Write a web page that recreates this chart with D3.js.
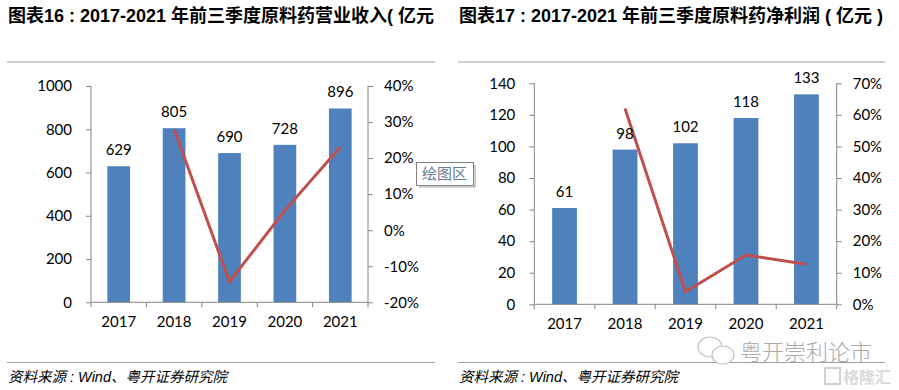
<!DOCTYPE html>
<html>
<head>
<meta charset="utf-8">
<script src="https://cdn.jsdelivr.net/npm/d3@7/dist/d3.min.js"></script>
<style>
  body { margin: 0; background: #fff; }
  svg { display: block; }
  .title { font-family: "Liberation Sans", "Noto Sans CJK SC", sans-serif; font-weight: bold; font-size: 18px; fill: #000; }
  .lbl { font-family: Lato, "Open Sans", sans-serif; font-size: 15px; fill: #000; }
  .src { font-family: "Liberation Sans", "Noto Sans CJK SC", sans-serif; font-style: italic; font-size: 14.5px; fill: #000; }
</style>
</head>
<body>
<svg id="chart" width="899" height="390"></svg>
<script>
// data
const years = ["2017", "2018", "2019", "2020", "2021"];
const revenue = [629, 805, 690, 728, 896];
const revenueGrowth = [null, 28.0, -14.3, 5.5, 23.1];
const profit = [61, 98, 102, 118, 133];
const profitGrowth = [null, 62.0, 4.0, 15.6, 12.7];
const revenueTicks = [0, 200, 400, 600, 800, 1000];
const revenuePctTicks = [-20, -10, 0, 10, 20, 30, 40];
const profitTicks = [0, 20, 40, 60, 80, 100, 120, 140];
const profitPctTicks = [0, 10, 20, 30, 40, 50, 60, 70];

const svg = d3.select("#chart");
const axisColor = "#868686";

function drawPanel(opt) {
  const g = svg.append("g");
  const x = d3.scaleBand().domain(years).range([opt.x0, opt.x1]).paddingInner(0.59).paddingOuter(0.295);
  const xb = d3.scaleBand().domain(years).range([opt.x0, opt.x1]);
  const y = d3.scaleLinear().domain(d3.extent(opt.ticks)).range([opt.y1, opt.y0]);
  const y2 = d3.scaleLinear().domain(d3.extent(opt.pctTicks)).range([opt.y1, opt.y0]);

  // bars
  g.selectAll("rect.bar").data(opt.values).join("rect")
    .attr("class", "bar")
    .attr("x", (d, i) => x(years[i]))
    .attr("width", x.bandwidth())
    .attr("y", d => y(d))
    .attr("height", d => y(0) - y(d))
    .attr("fill", "#4F81BD");

  // left axis
  const ya = g.append("g").attr("transform", `translate(${opt.x0},0)`)
    .call(d3.axisLeft(y).tickValues(opt.ticks).tickSize(5).tickPadding(opt.padL).tickFormat(d3.format("d")));
  // right axis
  const yb = g.append("g").attr("transform", `translate(${opt.x1},0)`)
    .call(d3.axisRight(y2).tickValues(opt.pctTicks).tickSize(5).tickPadding(11).tickFormat(d => d + "%"));
  // x axis, ticks sit on the band edges
  const xa = g.append("g").attr("transform", `translate(0,${opt.y1})`)
    .call(d3.axisBottom(xb).tickSize(0).tickPadding(14));
  xa.selectAll(".edge").data(d3.range(years.length + 1)).join("line")
    .attr("class", "edge")
    .attr("x1", i => opt.x0 + i * xb.step())
    .attr("x2", i => opt.x0 + i * xb.step())
    .attr("y1", 0).attr("y2", 5)
    .attr("stroke", axisColor);

  ya.select(".domain").attr("d", `M0,${opt.y0}V${opt.y1}`);
  yb.select(".domain").attr("d", `M0,${opt.y0}V${opt.y1}`);
  xa.select(".domain").attr("d", `M${opt.x0},0H${opt.x1}`);
  g.selectAll(".domain").attr("stroke", axisColor);
  g.selectAll(".tick line").attr("stroke", axisColor);
  g.selectAll(".tick text")
    .style("font-family", "Lato, 'Open Sans', sans-serif")
    .style("font-size", "15px")
    .attr("fill", "#000");

  // growth line
  const line = d3.line()
    .defined(d => d.v != null)
    .x(d => x(d.k) + x.bandwidth() / 2)
    .y(d => y2(d.v));
  g.append("path")
    .datum(opt.growth.map((v, i) => ({ k: years[i], v: v })))
    .attr("d", line)
    .attr("fill", "none")
    .attr("stroke", "#C0504D")
    .attr("stroke-width", 3);

  // data labels
  g.selectAll("text.lbl").data(opt.values).join("text")
    .attr("class", "lbl")
    .attr("x", (d, i) => x(years[i]) + x.bandwidth() / 2)
    .attr("y", d => y(d) - 11)
    .attr("text-anchor", "middle")
    .text(d => d);

  // title, rules, source
  g.append("text").attr("class", "title").attr("x", opt.tx).attr("y", 22)
    .attr("clip-path", opt.clip ? `url(#${opt.clip})` : null)
    .text(opt.title);
  g.append("line").attr("x1", opt.rx0).attr("x2", opt.rx1).attr("y1", 62).attr("y2", 62)
    .attr("stroke", "#a0a0a0");
  g.append("line").attr("x1", opt.rx0).attr("x2", opt.rx1).attr("y1", 362.5).attr("y2", 362.5)
    .attr("stroke", "#a0a0a0");
  g.append("text").attr("class", "src").attr("x", opt.tx).attr("y", 382)
    .text("资料来源 : Wind、粤开证券研究院");
}

svg.append("clipPath").attr("id", "clipL")
  .append("rect").attr("x", 0).attr("y", 0).attr("width", 436).attr("height", 40);

drawPanel({
  x0: 91, x1: 368, y0: 86, y1: 302.3, padL: 14,
  values: revenue, growth: revenueGrowth,
  ticks: revenueTicks, pctTicks: revenuePctTicks,
  title: "图表16 : 2017-2021 年前三季度原料药营业收入( 亿元 )",
  tx: 8, rx0: 7, rx1: 435, clip: "clipL"
});

drawPanel({
  x0: 534.3, x1: 836.7, y0: 83.3, y1: 304.3, padL: 14,
  values: profit, growth: profitGrowth,
  ticks: profitTicks, pctTicks: profitPctTicks,
  title: "图表17 : 2017-2021 年前三季度原料药净利润 ( 亿元 )",
  tx: 459, rx0: 458, rx1: 885
});

// "绘图区" tooltip box left over in the screenshot
const tip = svg.append("g");
tip.append("rect").attr("x", 419).attr("y", 165).attr("width", 57).attr("height", 23).attr("fill", "#d0d0d0");
tip.append("rect").attr("x", 416.5).attr("y", 162.5).attr("width", 57).attr("height", 23)
  .attr("fill", "#fff").attr("stroke", "#808080");
tip.append("text").attr("x", 422).attr("y", 179).attr("font-size", 15)
  .attr("font-family", "'Noto Sans CJK SC', sans-serif").attr("fill", "#6a7d95").text("绘图区");

// watermarks
const wm = svg.append("g").attr("fill", "#fff").attr("stroke", "#c0c0c0").attr("stroke-width", 1.2);
wm.append("ellipse").attr("cx", 710).attr("cy", 347).attr("rx", 12).attr("ry", 10);
wm.append("ellipse").attr("cx", 723).attr("cy", 355).attr("rx", 11).attr("ry", 9);
svg.append("text").attr("x", 740).attr("y", 360).attr("font-size", 22)
  .attr("font-family", "'Noto Sans CJK SC', sans-serif").attr("font-weight", 300)
  .attr("fill", "#aaaaaa").text("粤开崇利论市");
svg.append("rect").attr("x", 825).attr("y", 368).attr("width", 15).attr("height", 16)
  .attr("fill", "none").attr("stroke", "#d0d0d0").attr("stroke-width", 2);
svg.append("text").attr("x", 843).attr("y", 383).attr("font-size", 16)
  .attr("font-family", "'Noto Sans CJK SC', sans-serif").attr("font-weight", "bold")
  .attr("fill", "#dadada").text("格隆汇");
</script>
</body>
</html>
